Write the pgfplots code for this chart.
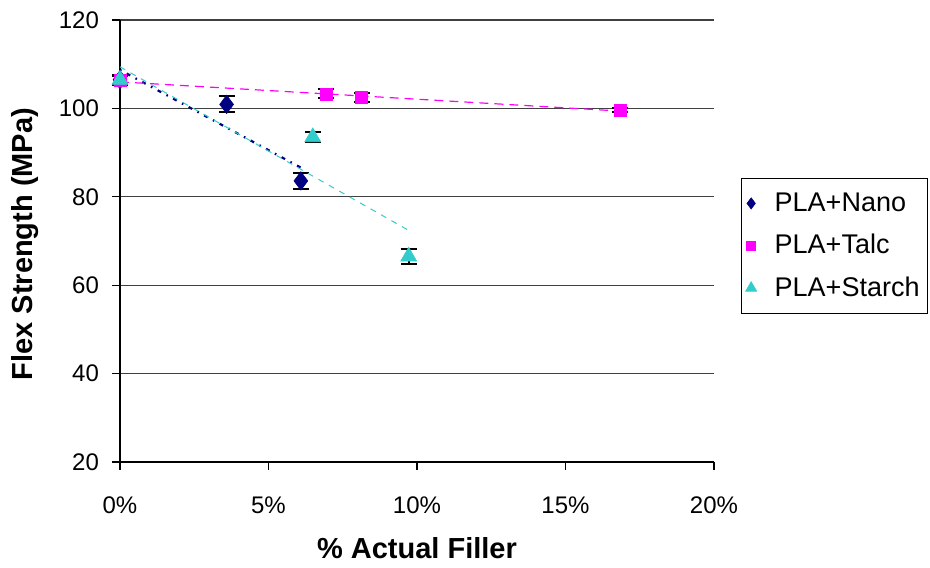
\documentclass[border=0pt]{standalone}
\usepackage{fontspec}
\setmainfont{Liberation Sans}
\usepackage{pgfplots}
\pgfplotsset{compat=1.18}
\definecolor{navyc}{RGB}{0,0,128}
\definecolor{magc}{RGB}{255,0,255}
\definecolor{turq}{RGB}{51,204,204}
\pgfplotsset{mylegimg/.style={legend image code/.code={\draw[##1, mark size=#1] plot coordinates {(0pt,0pt)};}}}
\begin{document}
\begin{tikzpicture}
\useasboundingbox (-60pt,-52.5pt) rectangle (405pt,231pt);
\begin{axis}[
  scale only axis, width=297pt, height=221pt,
  xmin=0, xmax=20, ymin=20, ymax=120,
  xtick={0,5,10,15,20}, ytick={20,40,...,120},
  axis lines=left, axis line style={-, black, line width=0.6pt},
  tick align=outside, major tick length=4pt,
  tick style={black, line width=0.6pt},
  ymajorgrids, grid style={black!75, line width=0.6pt},
  /pgf/number format/assume math mode=true,
  xticklabel={\pgfmathprintnumber{\tick}\%},
  ticklabel style={font=\fontsize{12}{14}\selectfont},
  xticklabel style={yshift=-10pt},
  yticklabel style={xshift=-3pt},
  xlabel={\% Actual Filler},
  ylabel={Flex Strength (MPa)},
  label style={font=\fontsize{14.5}{17}\selectfont\bfseries},
  xlabel style={at={([yshift=-43pt]axis description cs:0.5,0)}, anchor=center},
  ylabel style={at={([xshift=-47.5pt]axis description cs:0,0.493)}, anchor=center},
  clip=false,
  legend cell align=left,
  legend style={at={(axis description cs:1.0455,0.6425)}, anchor=north west,
    draw=black, line width=0.6pt, font=\fontsize{13.5}{16}\selectfont,
    row sep=6pt, column sep=7pt, inner xsep=2pt, inner ysep=5pt},
]
\addplot[only marks, color=navyc, mark=diamond*, mark size=4.6pt,
  mark options={fill=navyc, draw=navyc, line width=0.3pt},
  mylegimg=2.8pt,
  error bars/.cd, y dir=both, y explicit,
  error bar style={black, line width=1pt},
  error mark options={rotate=90, black, mark size=4pt, line width=1pt}]
  coordinates {(0,106.5) +- (0,1.0) (3.59,100.9) +- (0,1.8) (6.09,83.6) +- (0,1.8)};
\addlegendentry{PLA+Nano}
\addplot[only marks, color=magc, mark=square*, mark size=3pt,
  mark options={fill=magc, draw=magc, line width=0.3pt},
  mylegimg=2.3pt,
  error bars/.cd, y dir=both, y explicit,
  error bar style={black, line width=1pt},
  error mark options={rotate=90, black, mark size=4pt, line width=1pt}]
  coordinates {(0,106.3) +- (0,1.0) (6.93,103.3) +- (0,1.0) (8.14,102.4) +- (0,1.0) (16.84,99.6) +- (0,0.5)};
\addlegendentry{PLA+Talc}
\addplot[only marks, color=turq, mark=triangle*, mark size=4.6pt,
  mark options={fill=turq, draw=turq, line width=0.3pt},
  mylegimg=3.2pt,
  error bars/.cd, y dir=both, y explicit,
  error bar style={black, line width=1pt},
  error mark options={rotate=90, black, mark size=4pt, line width=1pt}]
  coordinates {(0,106.5) +- (0,1.0) (6.49,93.5) +- (0,1.1) (9.72,66.5) +- (0,1.8)};
\addlegendentry{PLA+Starch}
% trend lines
\addplot[forget plot, navyc, line width=1.1pt, dash pattern=on 0.8pt off 3pt on 2pt off 3pt]
  coordinates {(0,108.7) (6.09,86.6)};
\addplot[forget plot, magc, line width=0.6pt, dash pattern=on 4.5pt off 3pt]
  coordinates {(0,106.0) (16.84,99.4)};
\addplot[forget plot, turq, line width=0.5pt, dash pattern=on 3pt off 3pt]
  coordinates {(0,109.4) (9.72,72.4)};
\end{axis}
\end{tikzpicture}
\end{document}
